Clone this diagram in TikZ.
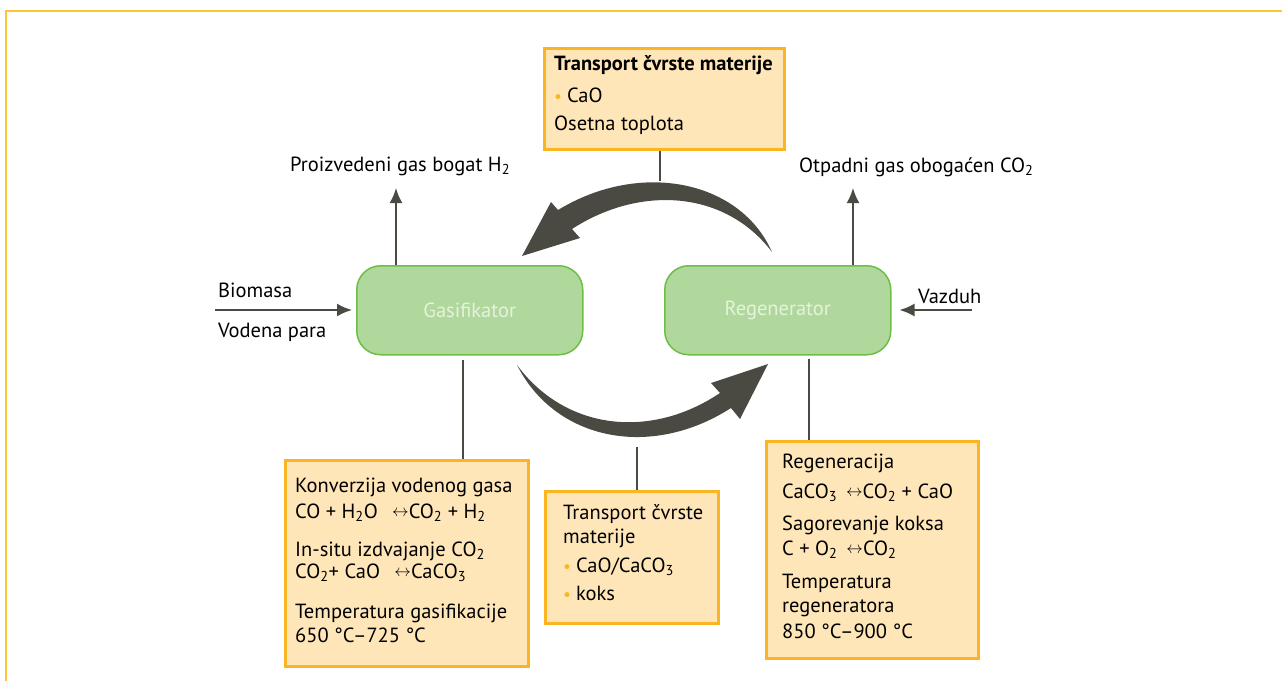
\documentclass[tikz,border=0pt]{standalone}
\usepackage{fontspec}
\setmainfont{PT Sans}
\usepackage{graphicx}
\usetikzlibrary{arrows.meta,positioning}
\definecolor{framec}{HTML}{FFC53A}
\definecolor{boxfill}{HTML}{FFE6B9}
\definecolor{boxdraw}{HTML}{FBB523}
\definecolor{greenfill}{HTML}{B0D89C}
\definecolor{greendraw}{HTML}{6CBE45}
\definecolor{greentext}{HTML}{E6F2DE}
\definecolor{arrowc}{HTML}{4B4A42}
\newcommand{\chsub}[1]{\textsubscript{#1}}
\newcommand{\react}{\,\raisebox{0.15ex}{\scalebox{0.8}{$\leftrightarrow$}}}
\newcommand{\dotb}{\textcolor{boxdraw}{\scalebox{0.85}{\textbullet}}\hspace{5pt}}
\tikzset{>={Latex[length=15pt,width=13pt]}}
\tikzset{
  infobox/.style={draw=boxdraw, fill=boxfill, line width=3pt, anchor=north west, inner sep=0pt},
  reactor/.style={draw=greendraw, fill=greenfill, line width=1.5pt, rounded corners=24pt,
    minimum width=226pt, minimum height=89pt, anchor=north west, inner sep=0pt,
    font=\fontsize{20.5}{24}\selectfont, text=greentext},
  flow/.style={->, draw=arrowc, line width=2pt},
  link/.style={draw=arrowc, line width=2pt},
  txt/.style={anchor=base west, inner sep=0pt, font=\fontsize{20.5}{24}\selectfont},
}
\begin{document}
\begin{tikzpicture}[x=1pt,y=-1pt]
  \useasboundingbox (0,0) rectangle (1282,681);
  % frame
  \draw[framec, line width=2pt] (6,681) -- (6,11) -- (1282,11);

  % reactors
  \node[reactor] (gas) at (356,265) {Gasifikator};
  \node[reactor] (reg) at (664,265) {Regenerator};

  % info boxes
  \node[infobox, minimum width=240pt, minimum height=101pt] (topbox) at (543,47) {};
  \node[infobox, minimum width=243pt, minimum height=206pt] (lbox) at (284,459) {};
  \node[infobox, minimum width=173pt, minimum height=132pt] (mbox) at (544,490) {};
  \node[infobox, minimum width=212pt, minimum height=217pt] (rbox) at (765,440) {};

  \foreach \y/\t [count=\i] in {70/{\bfseries Transport čvrste materije},
      102/{\dotb CaO}, 130/{Osetna toplota}}
    \node[txt] (tt\i) at (554,\y) {\t};
  \foreach \y/\t [count=\i] in {492/{Konverzija vodenog gasa},
      518/{CO + H\chsub{2}O \ \react CO\chsub{2} + H\chsub{2}},
      556/{In-situ izdvajanje CO\chsub{2}},
      578/{CO\chsub{2}+ CaO \ \react CaCO\chsub{3}},
      618/{Temperatura gasifikacije}, 642/{650 °C–725 °C}}
    \node[txt] (lt\i) at (295,\y) {\t};
  \foreach \y/\t [count=\i] in {519/{Transport čvrste}, 543/{materije},
      572/{\dotb CaO/CaCO\chsub{3}}, 600/{\dotb koks}}
    \node[txt] (mt\i) at (563,\y) {\t};
  \foreach \y/\t [count=\i] in {468/{Regeneracija},
      498/{CaCO\chsub{3} \react CO\chsub{2} + CaO},
      530/{Sagorevanje koksa}, 555/{C + O\chsub{2} \react CO\chsub{2}},
      588/{Temperatura}, 612/{regeneratora}, 638/{850 °C–900 °C}}
    \node[txt] (rt\i) at (782,\y) {\t};

  % in and out streams
  \node[txt] (h2) at (290,171) {Proizvedeni gas bogat H\chsub{2}};
  \node[txt] (co2) at (799,172) {Otpadni gas obogaćen CO\chsub{2}};
  \node[txt] (bio) at (218,297) {Biomasa};
  \node[txt] (para) at (218,337) {Vodena para};
  \node[txt] (air) at (918,303) {Vazduh};
  \coordinate (h2in) at (396,188);
  \coordinate (co2in) at (853,188);
  \coordinate (bioin) at (215,310);
  \coordinate (airin) at (972,310);
  \draw[flow] (gas.north -| h2in) -- (h2in);
  \draw[flow] (reg.north -| co2in) -- (co2in);
  \draw[flow] (bioin) -- ([xshift=-4pt]gas.west |- bioin);
  \draw[flow] (airin) -- ([xshift=8pt]reg.east |- airin);

  % connectors to the boxes
  \draw[link] (topbox.south -| 660,0) -- (660,181);
  \draw[link] ([yshift=-4pt]gas.south -| 463,0) -- (lbox.north -| 463,0);
  \draw[link] (637,447) -- (mbox.north -| 637,0);
  \draw[link] ([yshift=-3pt]reg.south -| 809,0) -- (rbox.north -| 809,0);

  % solid transport arrows
  \fill[arrowc] (772,252) .. controls (740,180) and (640,160) .. (558,210)
    -- (551,202) -- (522,256) -- (580,238) -- (572,229)
    .. controls (640,185) and (725,190) .. (772,252) -- cycle;
  \fill[arrowc] (517,365) .. controls (555,440) and (650,460) .. (731,408)
    -- (740,419) -- (768,364) -- (711,383) -- (720,393)
    .. controls (650,440) and (565,430) .. (517,365) -- cycle;
\end{tikzpicture}
\end{document}
